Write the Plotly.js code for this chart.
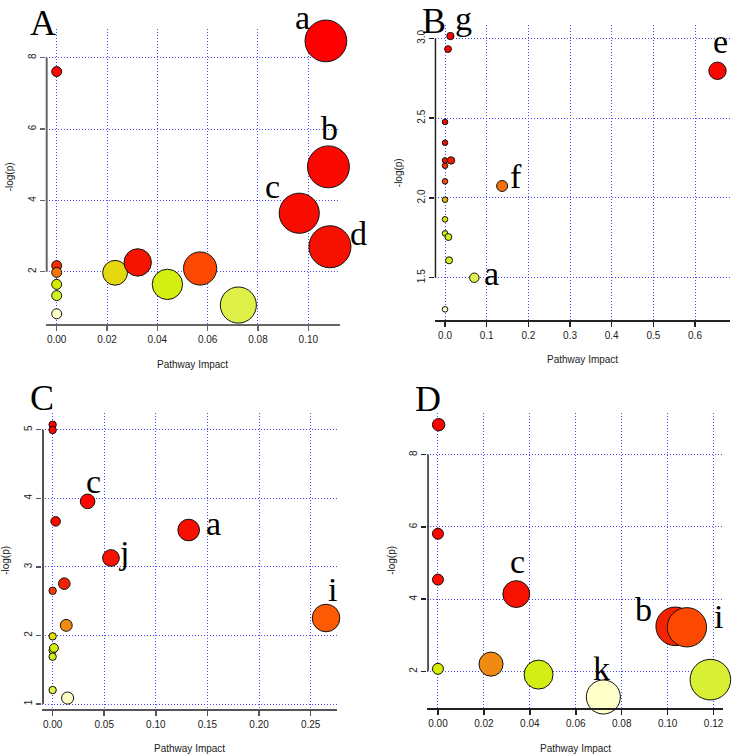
<!DOCTYPE html>
<html>
<head>
<meta charset="utf-8">
<script src="https://cdn.plot.ly/plotly-3.0.1.min.js"></script>
<style>
  html, body { margin: 0; padding: 0; background: #fff; }
  #chart { width: 734px; height: 756px; }
</style>
</head>
<body>
<div id="chart"></div>
<script>
// Panel A
const aImpact = [0, 0, 0, 0, 0, 0, 0.0232, 0.0322, 0.0440, 0.0570, 0.0722, 0.0964, 0.1070, 0.1080, 0.1086];
const aLogP   = [7.61, 2.17, 1.98, 1.645, 1.33, 0.82, 1.97, 2.26, 1.645, 2.09, 1.065, 3.64, 8.47, 4.94, 2.70];
const aLabels = ['', '', '', '', '', '', '', '', '', '', '', 'c', 'a', 'b', 'd'];
const aXTicks = [0, 0.02, 0.04, 0.06, 0.08, 0.10];
const aYTicks = [2, 4, 6, 8];

// Panel B
const bImpact = [0, 0, 0, 0, 0, 0, 0, 0, 0, 0.0072, 0.0080, 0.0096, 0.0128, 0.0144, 0.0703, 0.137, 0.654];
const bLogP   = [2.476, 2.346, 2.235, 2.202, 2.104, 1.989, 1.866, 1.778, 1.302, 2.933, 1.755, 1.609, 3.015, 2.235, 1.50, 2.075, 2.797];
const bLabels = ['', '', '', '', '', '', '', '', '', '', '', '', 'g', '', 'a', 'f', 'e'];
const bXTicks = [0, 0.1, 0.2, 0.3, 0.4, 0.5, 0.6];
const bYTicks = [1.5, 2.0, 2.5, 3.0];

// Panel C
const cImpact = [0, 0, 0, 0, 0, 0, 0, 0.0013, 0.0029, 0.0113, 0.0132, 0.0145, 0.0339, 0.0565, 0.1318, 0.2649];
const cLogP   = [5.073, 4.995, 2.652, 1.987, 1.783, 1.69, 1.204, 1.817, 3.663, 2.755, 2.147, 1.087, 3.955, 3.129, 3.537, 2.254];
const cLabels = ['', '', '', '', '', '', '', '', '', '', '', '', 'c', 'j', 'a', 'i'];
const cXTicks = [0, 0.05, 0.10, 0.15, 0.20, 0.25];
const cYTicks = [1, 2, 3, 4, 5];

// Panel D
const dImpact = [0.0003, 0, 0, 0, 0.0231, 0.0341, 0.0438, 0.0720, 0.1033, 0.1084, 0.1186];
const dLogP   = [8.83, 5.81, 4.54, 2.07, 2.20, 4.14, 1.91, 1.29, 3.246, 3.22, 1.77];
const dLabels = ['', '', '', '', '', 'c', '', 'k', 'b', 'i', ''];
const dXTicks = [0, 0.02, 0.04, 0.06, 0.08, 0.10, 0.12];
const dYTicks = [2, 4, 6, 8];

const panelLetters = ['A', 'B', 'C', 'D'];
const xTitle = 'Pathway Impact';
const yTitle = '-log(p)';

// 顏色：依顯著性排序 (紅 → 橘 → 黃 → 淡黃)
const heatScale = [
    [0.00, '#ff0000'],
    [0.36, '#f41400'],
    [0.45, '#f63400'],
    [0.52, '#ff5000'],
    [0.60, '#f08a10'],
    [0.625, '#e8b400'],
    [0.645, '#e4dc10'],
    [0.70, '#d4ec00'],
    [0.88, '#d2f024'],
    [0.94, '#e2f050'],
    [1.00, '#ffffc8']
];

const W = 734, H = 756;

// 版面設定 (像素座標)
const panels = [
    {
        impact: aImpact, logp: aLogP, labels: aLabels, xTicks: aXTicks, yTicks: aYTicks,
        box: [45.7, 29.3, 340, 324], xRange: [-0.00437, 0.1126], yRange: [0.534, 8.796],
        rMin: 5, rMax: 21, axisColor: '#666666', axisWidth: 2, xDigits: 2, yDigits: 0,
        letter: [42.5, 23.5],
        shifts: { a: [-23.5, -23], b: [1.5, -38.4], c: [-26.3, -26.7], d: [29, -13.3] }
    },
    {
        impact: bImpact, logp: bLogP, labels: bLabels, xTicks: bXTicks, yTicks: bYTicks,
        box: [434.7, 25, 730, 320], xRange: [-0.0248, 0.684], yRange: [1.235, 3.084],
        rMin: 2.8, rMax: 8.7, axisColor: '#222222', axisWidth: 1.5, xDigits: 1, yDigits: 1,
        letter: [433.5, 21],
        shifts: { g: [13.2, -17.4], e: [2.8, -28.9], f: [13.8, -9.4], a: [17.5, -4.2] }
    },
    {
        impact: cImpact, logp: cLogP, labels: cLabels, xTicks: cXTicks, yTicks: cYTicks,
        box: [42, 413, 337.3, 708.7], xRange: [-0.0103, 0.2758], yRange: [0.932, 5.243],
        rMin: 3.7, rMax: 13.8, axisColor: '#555555', axisWidth: 2, xDigits: 2, yDigits: 0,
        letter: [41.5, 397.5],
        shifts: { c: [5.8, -19.9], a: [25.3, -6.5], j: [13.5, -5.5], i: [6, -28.5] }
    },
    {
        impact: dImpact, logp: dLogP, labels: dLabels, xTicks: dXTicks, yTicks: dYTicks,
        box: [427.3, 413, 723, 708], xRange: [-0.00464, 0.1241], yRange: [0.985, 9.154],
        rMin: 5.5, rMax: 20.3, axisColor: '#222222', axisWidth: 1.5, xDigits: 2, yDigits: 0,
        letter: [428, 398.5],
        shifts: { c: [1.7, -32.6], b: [-31.8, -16.9], i: [32, -10.8], k: [-1.9, -28.5] }
    }
];

// 泡泡大小依 impact 的平方根縮放
function bubbleSizes(impacts, rMin, rMax) {
    const maxX = Math.max(...impacts);
    return impacts.map(v => 2 * (rMin + (rMax - rMin) * Math.sqrt(v / maxX)));
}

// 依 -log(p) 由大到小排名，回傳 0~1
function rankFractions(values) {
    const order = values.map((v, i) => i).sort((p, q) => values[q] - values[p]);
    const out = new Array(values.length);
    order.forEach((idx, k) => { out[idx] = k / (values.length - 1); });
    return out;
}

const sans = 'Liberation Sans, Arial, sans-serif';
const serif = 'Liberation Serif, Times New Roman, serif';
const tickFont = { family: sans, size: 10, color: '#222' };

const traces = [];
const layout = {
    width: W, height: H,
    margin: { l: 0, r: 0, t: 0, b: 0 },
    paper_bgcolor: '#fff', plot_bgcolor: 'rgba(0,0,0,0)',
    showlegend: false,
    annotations: [], shapes: []
};

panels.forEach((p, k) => {
    const n = k === 0 ? '' : String(k + 1);
    const xa = 'x' + n, ya = 'y' + n;
    const [x0, y0, x1, y1] = p.box;

    traces.push({
        type: 'scatter', mode: 'markers',
        x: p.impact, y: p.logp, xaxis: xa, yaxis: ya,
        cliponaxis: false,
        marker: {
            size: bubbleSizes(p.impact, p.rMin, p.rMax),
            color: rankFractions(p.logp),
            colorscale: heatScale, cmin: 0, cmax: 1, showscale: false,
            opacity: 1,
            line: { color: '#111', width: 1 }
        }
    });

    const axisCommon = {
        zeroline: false,
        showgrid: true, gridcolor: '#4a4aff', gridwidth: 1, griddash: '1px,2px',
        ticks: 'outside', ticklen: 5, tickwidth: 1.5, tickcolor: p.axisColor,
        tickfont: tickFont, tickmode: 'array', fixedrange: true
    };
    // x 軸用 Plotly 自己的軸線
    layout['xaxis' + n] = {
        ...axisCommon,
        showline: true, linecolor: p.axisColor, linewidth: p.axisWidth, mirror: false,
        anchor: ya,
        domain: [x0 / W, x1 / W],
        range: p.xRange,
        tickvals: p.xTicks,
        ticktext: p.xTicks.map(v => v.toFixed(p.xDigits))
    };
    layout['yaxis' + n] = {
        ...axisCommon,
        showline: false,
        anchor: xa,
        domain: [1 - y1 / H, 1 - y0 / H],
        range: p.yRange,
        tickvals: p.yTicks,
        ticktext: p.yTicks.map(v => v.toFixed(p.yDigits)),
        tickangle: -90
    };

    // R 風格的 y 軸線：只畫到頭尾刻度
    const tickPy = v => y1 - (v - p.yRange[0]) / (p.yRange[1] - p.yRange[0]) * (y1 - y0);
    const half = p.axisWidth / 2;
    layout.shapes.push({
        type: 'line', layer: 'above', xref: 'paper', yref: 'paper',
        x0: (x0 + half) / W, x1: (x0 + half) / W,
        y0: 1 - tickPy(p.yTicks[0]) / H, y1: 1 - tickPy(p.yTicks[p.yTicks.length - 1]) / H,
        line: { color: p.axisColor, width: p.axisWidth }
    });

    // 軸標題
    layout.annotations.push({
        text: xTitle, xref: xa + ' domain', yref: ya + ' domain', x: 0.5, y: 0,
        yshift: -40, showarrow: false, xanchor: 'center', yanchor: 'middle',
        font: { family: sans, size: 10, color: '#222' }
    });
    layout.annotations.push({
        text: yTitle, xref: xa + ' domain', yref: ya + ' domain', x: 0, y: 0.5,
        xshift: -36, showarrow: false, textangle: -90, xanchor: 'center', yanchor: 'middle',
        font: { family: sans, size: 10, color: '#222' }
    });

    // 面板字母
    layout.annotations.push({
        text: panelLetters[k], xref: 'paper', yref: 'paper',
        x: p.letter[0] / W, y: 1 - p.letter[1] / H,
        showarrow: false, xanchor: 'center', yanchor: 'middle',
        font: { family: serif, size: 36, color: '#000' }
    });

    // 代謝路徑標記
    p.labels.forEach((lab, i) => {
        if (!lab) return;
        const s = p.shifts[lab];
        layout.annotations.push({
            text: lab, xref: xa, yref: ya, x: p.impact[i], y: p.logp[i],
            xshift: s[0], yshift: -s[1], showarrow: false,
            xanchor: 'center', yanchor: 'middle',
            font: { family: serif, size: 34, color: '#000' }
        });
    });
});

Plotly.newPlot('chart', traces, layout, { displayModeBar: false, staticPlot: true });
</script>
</body>
</html>
